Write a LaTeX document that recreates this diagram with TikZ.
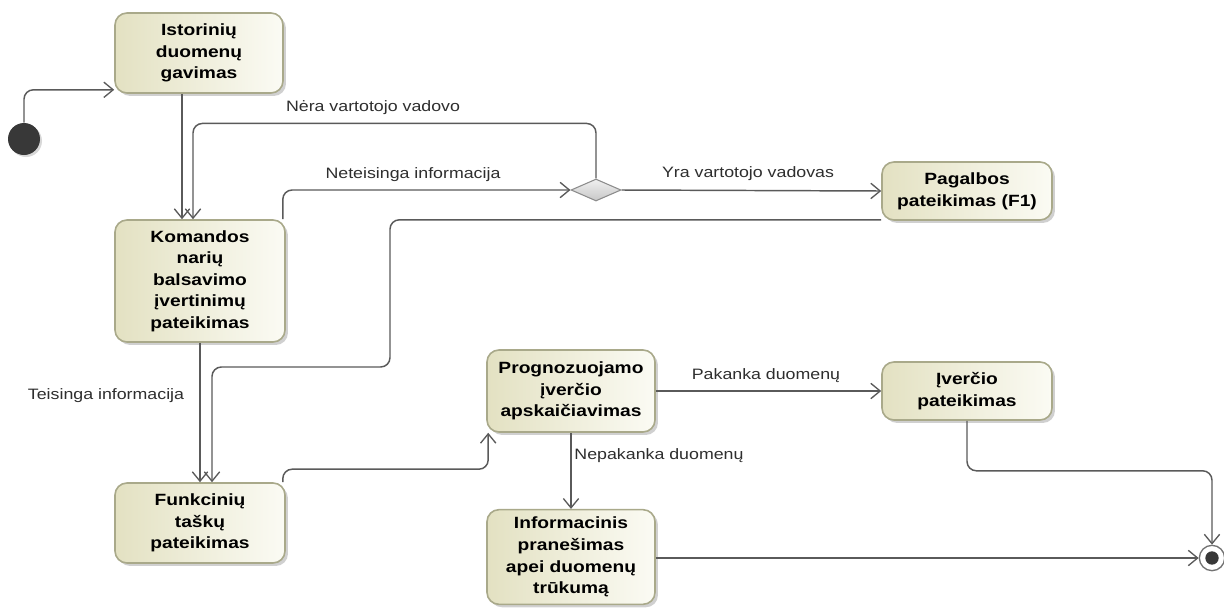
\documentclass[tikz,border=0pt]{standalone}
\usepackage{fontspec}
\setmainfont{Liberation Sans}[FakeStretch=1.18]
\usetikzlibrary{arrows.meta,shapes.geometric,shadows,calc}
\definecolor{boxL}{HTML}{E3E1C2}
\definecolor{boxR}{HTML}{FBFBF4}
\definecolor{boxEdge}{HTML}{A9A98A}
\definecolor{wire}{HTML}{5A5A5A}
\definecolor{labelInk}{HTML}{2E2E2E}
\definecolor{dotInk}{HTML}{383838}
\tikzset{
  action/.style={draw=boxEdge, line width=1.2pt, rounded corners=9pt,
    left color=boxL, right color=boxR, align=center, inner sep=2pt,
    font=\bfseries\fontsize{12.2}{16.2}\selectfont,
    drop shadow={shadow xshift=2.2pt, shadow yshift=-2.2pt, fill=black!30, opacity=.6}},
  flow/.style={draw=wire, line width=1.1pt, rounded corners=7pt,
    -{Straight Barb[length=7pt,width=11.5pt,line width=1pt]}},
  guard/.style={text=labelInk, font=\fontsize{11.3}{13}\selectfont, inner sep=0pt},
  decision/.style={shape=diamond, draw=black!45, line width=0.8pt, aspect=2.3,
    minimum width=37.5pt, minimum height=16.5pt, inner sep=0pt,
    top color=black!6, bottom color=black!22},
}
\begin{document}
\begin{tikzpicture}[x=0.75pt,y=-0.75pt]
\useasboundingbox (0,0) rectangle (1224,607);
\fill[white] (0,0) rectangle (1224,607);

% actions
\node[action, minimum width=126pt, minimum height=60pt] (ist) at (199,53)
  {Istorinių\\duomenų\\gavimas};
\node[action, minimum width=127.5pt, minimum height=91.5pt] (kom) at (200,281)
  {Komandos\\narių\\balsavimo\\įvertinimų\\pateikimas};
\node[action, minimum width=127.5pt, minimum height=60pt] (fun) at (200,523)
  {Funkcinių\\taškų\\pateikimas};
\node[action, minimum width=127.5pt, minimum height=43.5pt] (pag) at (967,191)
  {Pagalbos\\pateikimas (F1)};
\node[action, minimum width=126pt, minimum height=61.5pt] (prog) at (571,391)
  {Prognozuojamo\\įverčio\\apskaičiavimas};
\node[action, minimum width=127.5pt, minimum height=43.5pt] (iv) at (967,391)
  {Įverčio\\pateikimas};
\node[action, minimum width=126pt, minimum height=71pt] (info) at (571,557)
  {Informacinis\\pranešimas\\apei duomenų\\trūkumą};

% initial, decision and final nodes
\node[circle, fill=dotInk, minimum size=24pt, inner sep=0pt,
  drop shadow={shadow xshift=1.5pt, shadow yshift=-1.5pt, fill=black!25, opacity=.6}] (init) at (24,139) {};
\node[decision] (dia) at (596,190) {};
\node[circle, draw=black!55, fill=white, line width=1pt, minimum size=19pt, inner sep=0pt] (fin) at (1212,558) {};
\fill[dotInk] (fin.center) circle (5pt);

% waypoints
\coordinate (w1) at (390,367);

% connectors
\draw[flow] (init.north) |- ($(ist.south west)+(0,-4)$);
\draw[flow] ($(ist.south)+(-17,0)$) coordinate (a1) -- (a1 |- kom.north);
\draw[flow] (dia.north) -- ++(0,-55) -| ($(kom.north)+(-7,0)$);
\draw[flow] ($(kom.north east)+(-3,0)$) |- (dia.west);
\draw[flow] (dia.east) -- (pag.west);
\draw[flow] ($(pag.south west)+(0,-1)$) -| (w1) -| ($(fun.north)+(12,0)$);
\draw[flow] (kom.south) -- (kom.south |- fun.north);
\draw[flow] ($(fun.north east)+(-3,0)$) -- ++(0,-13) -| ($(prog.south west)+(2,0)$);
\draw[flow] (prog.east) -- (prog.east -| iv.west);
\draw[flow] (prog.south) -- (info.north);
\draw[flow] (iv.south) -- ++(0,50) -| (fin.north);
\draw[flow] (info.east |- fin) -- (fin.west);

% guards
\node[guard] (g1) at (373,108) {Nėra vartotojo vadovo};
\node[guard] (g2) at (413,175) {Neteisinga informacija};
\node[guard] (g3) at (748,174) {Yra vartotojo vadovas};
\node[guard] (g4) at (106,396) {Teisinga informacija};
\node[guard] (g5) at (766,376) {Pakanka duomenų};
\node[guard] (g6) at (659,456) {Nepakanka duomenų};
\end{tikzpicture}
\end{document}
